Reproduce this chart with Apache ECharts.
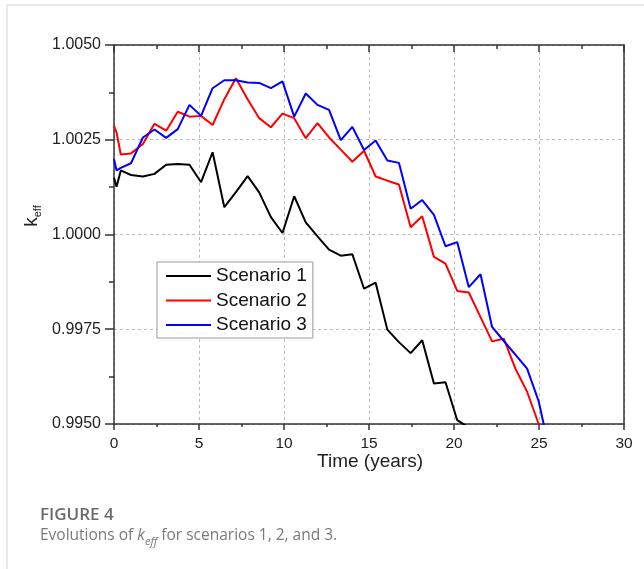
<!DOCTYPE html>
<html>
<head>
<meta charset="utf-8">
<script src="https://cdn.jsdelivr.net/npm/echarts@6/dist/echarts.min.js"></script>
<style>
  html, body { margin: 0; padding: 0; background: #fff; }
  #chart { width: 644px; height: 569px; }
</style>
</head>
<body>
<div id="chart"></div>
<script>
// Burnup time points (years)
const timeYears = [0, 0.15, 0.4, 1.0, 1.7, 2.38, 3.07, 3.75, 4.44, 5.12, 5.8, 6.49, 7.17, 7.86,
  8.54, 9.23, 9.91, 10.6, 11.28, 11.97, 12.65, 13.34, 14.02, 14.71, 15.39, 16.08, 16.76,
  17.45, 18.13, 18.82, 19.5, 20.19, 20.87, 21.56, 22.24, 22.93, 23.61, 24.3, 24.98, 25.67];

// k_eff per scenario
const scenario1 = [1.00150, 1.00126, 1.00169, 1.00157, 1.00153, 1.00160, 1.00184, 1.00186,
  1.00184, 1.00138, 1.00217, 1.00072, 1.00112, 1.00154, 1.00111, 1.00046, 1.00004, 1.00101,
  1.00032, 0.99995, 0.99960, 0.99944, 0.99948, 0.99857, 0.99873, 0.99749, 0.99716, 0.99687,
  0.99721, 0.99607, 0.99610, 0.99510, 0.99491];
const scenario2 = [1.00287, 1.00269, 1.00211, 1.00214, 1.00239, 1.00292, 1.00274, 1.00324,
  1.00311, 1.00313, 1.00289, 1.00357, 1.00412, 1.00357, 1.00307, 1.00283, 1.00319, 1.00307,
  1.00254, 1.00294, 1.00256, 1.00224, 1.00192, 1.00221, 1.00153, 1.00142, 1.00132, 1.00019,
  1.00048, 0.99941, 0.99923, 0.99851, 0.99847, 0.99782, 0.99718, 0.99725, 0.99646, 0.99585,
  0.99500, 0.99350];
const scenario3 = [1.00199, 1.00169, 1.00176, 1.00188, 1.00256, 1.00277, 1.00255, 1.00278,
  1.00342, 1.00313, 1.00386, 1.00407, 1.00407, 1.00401, 1.00400, 1.00386, 1.00404, 1.00311,
  1.00372, 1.00342, 1.00329, 1.00249, 1.00284, 1.00223, 1.00248, 1.00195, 1.00189, 1.00068,
  1.00091, 1.00052, 0.99969, 0.99980, 0.99861, 0.99895, 0.99756, 0.99719, 0.99683, 0.99646,
  0.99560, 0.99420];

const seriesNames = ['Scenario 1', 'Scenario 2', 'Scenario 3'];
const seriesColors = ['#000000', '#ff0000', '#0000ff'];
const seriesValues = [scenario1, scenario2, scenario3];

const xTicks = { min: 0, max: 30, step: 5 };
const yTicks = { min: 0.995, max: 1.005, step: 0.0025 };

const pairs = vals => vals.map((v, i) => [timeYears[i], v]);

const axisColor = '#333';
const labelFont = 'Liberation Sans, Arial, sans-serif';

const chart = echarts.init(document.getElementById('chart'), null, { renderer: 'canvas' });

chart.setOption({
  backgroundColor: '#fff',
  animation: false,
  grid: { left: 114, right: 20, top: 45, bottom: 145 },
  xAxis: [{
    type: 'value', position: 'bottom',
    min: xTicks.min, max: xTicks.max, interval: xTicks.step,
    axisLine: { show: true, onZero: false, lineStyle: { color: axisColor, width: 1.5 } },
    axisTick: { show: true, inside: false, length: 6, lineStyle: { color: axisColor, width: 1.5 } },
    minorTick: { show: true, splitNumber: 2, length: 3, lineStyle: { color: axisColor, width: 1.5 } },
    axisLabel: { color: '#222', fontSize: 15.5, fontFamily: labelFont, margin: 12 },
    splitLine: { show: true, lineStyle: { color: '#bbb', width: 1, type: [3, 3] } }
  }, {
    type: 'value', position: 'top',
    min: xTicks.min, max: xTicks.max, interval: xTicks.step,
    axisLine: { show: true, onZero: false, lineStyle: { color: axisColor, width: 1.5 } },
    axisTick: { show: true, inside: true, length: 7, lineStyle: { color: axisColor, width: 1.5 } },
    minorTick: { show: true, splitNumber: 2, length: 4, lineStyle: { color: axisColor, width: 1.5 } },
    axisLabel: { show: false },
    splitLine: { show: false }
  }],
  yAxis: [{
    type: 'value', position: 'left',
    min: yTicks.min, max: yTicks.max, interval: yTicks.step,
    axisLine: { show: true, onZero: false, lineStyle: { color: axisColor, width: 1.5 } },
    axisTick: { show: true, inside: false, length: 9, lineStyle: { color: axisColor, width: 1.5 } },
    minorTick: { show: true, splitNumber: 2, length: 5, lineStyle: { color: axisColor, width: 1.5 } },
    axisLabel: { color: '#222', fontSize: 16, fontFamily: labelFont, margin: 13,
      formatter: v => v.toFixed(4) },
    splitLine: { show: true, lineStyle: { color: '#bbb', width: 1, type: [3, 3] } }
  }, {
    type: 'value', position: 'right',
    min: yTicks.min, max: yTicks.max, interval: yTicks.step,
    axisLine: { show: true, onZero: false, lineStyle: { color: axisColor, width: 1.5 } },
    axisTick: { show: false },
    axisLabel: { show: false },
    splitLine: { show: false }
  }],
  legend: {
    orient: 'vertical',
    left: 157, top: 262,
    padding: [3, 6, 2, 9],
    itemGap: 2.5,
    itemWidth: 45, itemHeight: 2,
    icon: 'rect',
    backgroundColor: '#fff',
    borderColor: '#999', borderWidth: 1,
    textStyle: { color: '#111', fontSize: 19, fontFamily: labelFont, lineHeight: 22 },
    data: seriesNames
  },
  series: seriesNames.map((name, i) => ({
    name,
    type: 'line',
    xAxisIndex: 0, yAxisIndex: 0,
    data: pairs(seriesValues[i]),
    showSymbol: false, symbol: 'none',
    clip: true,
    color: seriesColors[i],
    lineStyle: { color: seriesColors[i], width: 2 },
    z: 3 + i
  })),
  graphic: [
    // card outline
    { type: 'line', shape: { x1: 7, y1: 5, x2: 644, y2: 5 }, style: { stroke: '#d4d4d4', lineWidth: 1 } },
    { type: 'line', shape: { x1: 7, y1: 5, x2: 7, y2: 569 }, style: { stroke: '#d4d4d4', lineWidth: 1 } },
    // y-axis title
    {
      type: 'text', x: 32, y: 216, rotation: Math.PI / 2,
      style: {
        text: '{k|k}{s|eff}', align: 'center', verticalAlign: 'middle',
        rich: {
          k: { fontSize: 19, fontFamily: labelFont, fill: '#222', lineHeight: 22, verticalAlign: 'middle' },
          s: { fontSize: 11, fontFamily: labelFont, fill: '#222', lineHeight: 11, verticalAlign: 'bottom' }
        }
      }
    },
    // x-axis title
    {
      type: 'text', x: 370, y: 462,
      style: { text: 'Time (years)', align: 'center', verticalAlign: 'middle',
        fontSize: 19, fontFamily: labelFont, fill: '#222' }
    },
    // figure caption
    {
      type: 'text', x: 40, y: 515,
      style: { text: 'FIGURE 4', align: 'left', verticalAlign: 'middle',
        fontSize: 17, fontWeight: 600, fontFamily: 'Open Sans, Noto Sans, sans-serif', fill: '#6b6b6b' }
    },
    {
      type: 'text', x: 40, y: 536,
      style: {
        text: '{n|Evolutions of }{i|k}{s|eff}{n| for scenarios 1, 2, and 3.}',
        align: 'left', verticalAlign: 'middle',
        rich: {
          n: { fontSize: 15.5, fontFamily: 'Open Sans, Noto Sans, sans-serif', fill: '#7a7a7a', lineHeight: 22, verticalAlign: 'middle' },
          i: { fontSize: 15.5, fontStyle: 'italic', fontFamily: 'Open Sans, Noto Sans, sans-serif', fill: '#7a7a7a', lineHeight: 22, verticalAlign: 'middle' },
          s: { fontSize: 11, fontStyle: 'italic', fontFamily: 'Open Sans, Noto Sans, sans-serif', fill: '#7a7a7a', lineHeight: 11, verticalAlign: 'bottom' }
        }
      }
    }
  ]
});
</script>
</body>
</html>
